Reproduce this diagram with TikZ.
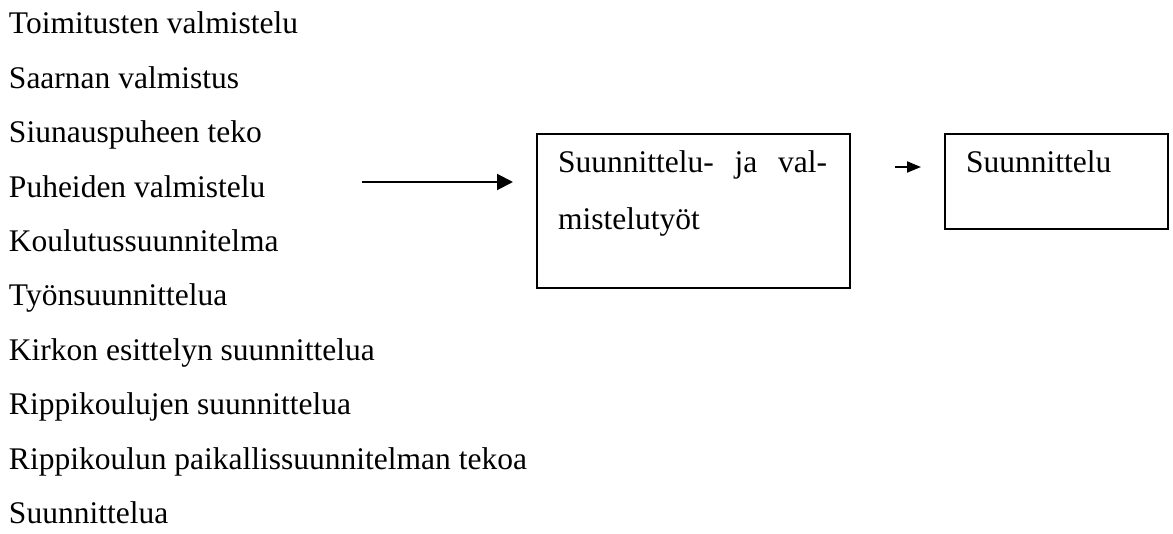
\documentclass[tikz,border=0pt]{standalone}
\usepackage{fontspec}
\setmainfont{Liberation Serif}
\usetikzlibrary{arrows.meta}
\begin{document}
\begin{tikzpicture}[x=0.5pt,y=-0.5pt,
  every node/.style={font=\fontsize{15.75}{18}\selectfont, inner sep=0pt, outer sep=0pt},
  listitem/.style={anchor=base west},
  conn/.style={line width=1pt}]
\useasboundingbox (0,0) rectangle (1173,534);
% activities list
\foreach \t [count=\i from 0] in {Toimitusten valmistelu, Saarnan valmistus, Siunauspuheen teko, Puheiden valmistelu, Koulutussuunnitelma, Työnsuunnittelua, Kirkon esittelyn suunnittelua, Rippikoulujen suunnittelua, Rippikoulun paikallissuunnitelman tekoa, Suunnittelua}
  \node[listitem] (item\i) at (9, 34+54.4*\i) {\t};
% boxes
\node[draw, line width=1pt, minimum width=156.5pt, minimum height=77pt] (box1) at (693.5,211) {};
\node[draw, line width=1pt, minimum width=111.5pt, minimum height=47.5pt] (box2) at (1056.5,181.5) {};
\node[listitem] (t1a) at (558,173) {\hbox to 134.5pt{Suunnittelu-\hfill ja\hfill val-}};
\node[listitem] (t1b) at (558,230) {mistelutyöt};
\node[listitem] (t2) at (966,173) {Suunnittelu};
% arrows
\coordinate (a1s) at (362,182);
\coordinate (a1e) at (513,182);
\coordinate (a2s) at (895,167);
\coordinate (a2e) at (921,167);
\draw[conn, -{Triangle[length=8pt,width=8pt]}] (a1s) -- (a1e);
\draw[conn, -{Triangle[length=7pt,width=5.5pt]}] (a2s) -- (a2e);
\end{tikzpicture}
\end{document}
